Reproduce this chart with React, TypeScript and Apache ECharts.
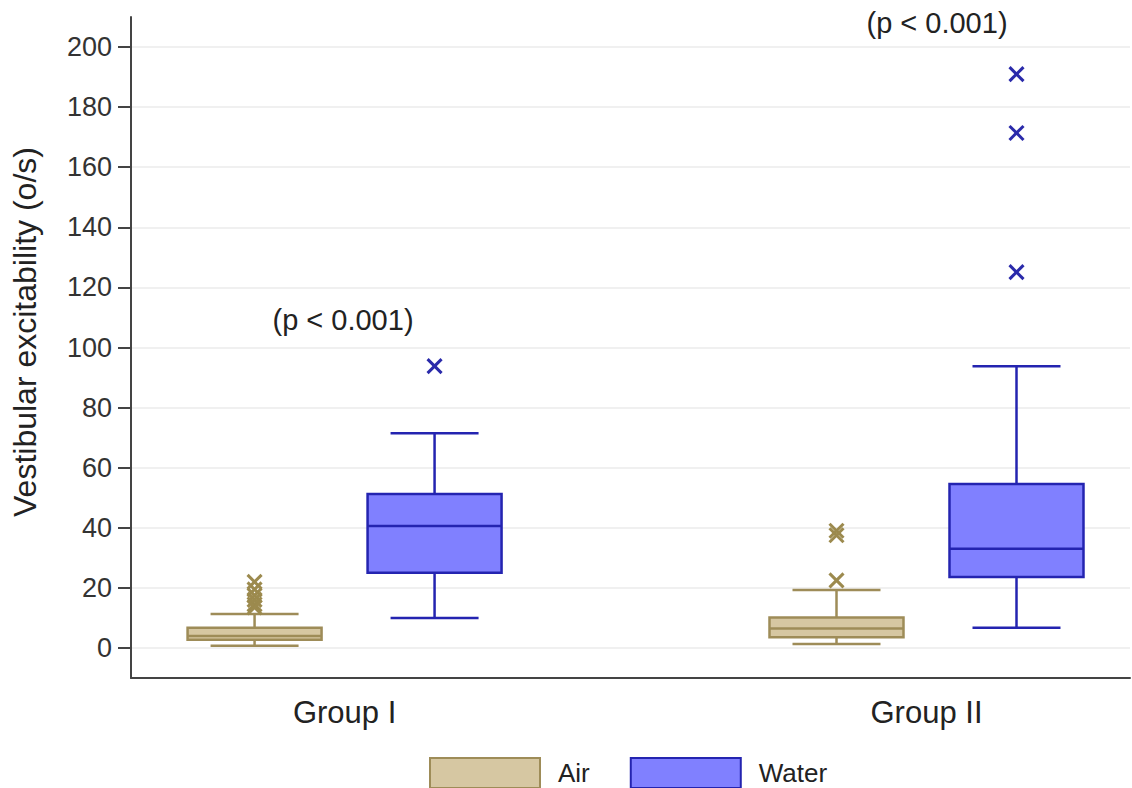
import React, { useEffect, useRef } from "react";
import * as echarts from "echarts";

// ---- data ----
const groups = ["Group I", "Group II"];
const seriesNames = ["Air", "Water"];
// [min, Q1, median, Q3, max]
const airStats = [
  [0.7, 2.7, 4.0, 6.7, 11.3],
  [1.3, 3.6, 6.5, 10.1, 19.3],
];
const waterStats = [
  [10.0, 25.0, 40.6, 51.2, 71.5],
  [6.7, 23.6, 33.0, 54.6, 93.8],
];
const airOutliers = [
  [22.0, 19.5, 17.5, 16.0, 14.5, 13.5],
  [39.0, 37.5, 22.5],
];
const waterOutliers = [[93.8], [191.0, 171.4, 125.1]];
const yTicks = [0, 20, 40, 60, 80, 100, 120, 140, 160, 180, 200];
const pLabels = ["(p < 0.001)", "(p < 0.001)"];
const yTitle = "Vestibular excitability (o/s)";

// ---- style ----
const FONT = "Liberation Sans, Arial, sans-serif";
const AIR_FILL = "#d6c7a2";
const AIR_STROKE = "#9e8c58";
const WATER_FILL = "#8080ff";
const WATER_STROKE = "#2424b0";
const HALF_GAP = 90; // px from group centre to box centre
const BOX_W = 134;
const CAP_W = 88;

function boxRenderer(side: number, stroke: string, fill: string) {
  return (params: any, api: any) => {
    const g = api.value(0);
    const cx = api.coord([g, 0])[0] + side * HALF_GAP;
    const yy = (i: number) => api.coord([g, api.value(i)])[1];
    const ymin = yy(1), yq1 = yy(2), ymed = yy(3), yq3 = yy(4), ymax = yy(5);
    const ls = { stroke, lineWidth: 2.5 };
    return {
      type: "group",
      children: [
        { type: "line", shape: { x1: cx, y1: ymax, x2: cx, y2: yq3 }, style: ls },
        { type: "line", shape: { x1: cx, y1: yq1, x2: cx, y2: ymin }, style: ls },
        { type: "line", shape: { x1: cx - CAP_W / 2, y1: ymax, x2: cx + CAP_W / 2, y2: ymax }, style: ls },
        { type: "line", shape: { x1: cx - CAP_W / 2, y1: ymin, x2: cx + CAP_W / 2, y2: ymin }, style: ls },
        {
          type: "rect",
          shape: { x: cx - BOX_W / 2, y: yq3, width: BOX_W, height: yq1 - yq3 },
          style: { fill, stroke, lineWidth: 2.5 },
        },
        { type: "line", shape: { x1: cx - BOX_W / 2, y1: ymed, x2: cx + BOX_W / 2, y2: ymed }, style: ls },
      ],
    };
  };
}

function crossRenderer(side: number, stroke: string) {
  return (params: any, api: any) => {
    const g = api.value(0);
    const p = api.coord([g, api.value(1)]);
    const cx = p[0] + side * HALF_GAP;
    const cy = p[1];
    const s = 7;
    const ls = { stroke, lineWidth: 3 };
    return {
      type: "group",
      children: [
        { type: "line", shape: { x1: cx - s, y1: cy - s, x2: cx + s, y2: cy + s }, style: ls },
        { type: "line", shape: { x1: cx - s, y1: cy + s, x2: cx + s, y2: cy - s }, style: ls },
      ],
    };
  };
}

const toBoxData = (stats: number[][]) => stats.map((s, i) => [i + 1, ...s]);
const toOutData = (outs: number[][]) =>
  outs.flatMap((arr, i) => arr.map((v) => [i + 1, v]));

export default function App() {
  const ref = useRef<HTMLDivElement>(null);
  useEffect(() => {
    if (!ref.current) return;
    const chart = echarts.init(ref.current, null, { renderer: "svg" });
    const option: any = {
      animation: false,
      backgroundColor: "#ffffff",
      textStyle: { fontFamily: FONT },
      grid: { left: 131, right: 2, top: 17, bottom: 110 },
      xAxis: {
        type: "value",
        min: 0.633,
        max: 2.3497,
        axisLine: { show: true, onZero: false, lineStyle: { color: "#444", width: 2 } },
        axisTick: { show: false },
        splitLine: { show: false },
        axisLabel: {
          customValues: [1, 2],
          formatter: (v: number) => groups[Math.round(v) - 1] ?? "",
          fontSize: 31,
          color: "#222",
          margin: 19,
          fontFamily: FONT,
        },
      },
      yAxis: {
        type: "value",
        min: -10,
        max: 210,
        axisLine: { show: true, onZero: false, lineStyle: { color: "#444", width: 2 } },
        axisTick: {
          show: true,
          customValues: yTicks,
          length: 13,
          lineStyle: { color: "#444", width: 2 },
        },
        splitLine: { show: true, lineStyle: { color: "#ebebeb", width: 1.5 } },
        axisLabel: {
          customValues: yTicks,
          fontSize: 27,
          color: "#333",
          margin: 19,
          fontFamily: FONT,
        },
      },
      legend: {
        left: 424,
        top: 752,
        itemWidth: 110,
        itemHeight: 30,
        itemGap: 40,
        icon: "rect",
        textStyle: { fontSize: 26, color: "#222", fontFamily: FONT, padding: [0, 0, 0, 13] },
        data: [
          { name: seriesNames[0], itemStyle: { color: AIR_FILL, borderColor: AIR_STROKE, borderWidth: 2 } },
          { name: seriesNames[1], itemStyle: { color: WATER_FILL, borderColor: WATER_STROKE, borderWidth: 2 } },
        ],
      },
      series: [
        {
          name: seriesNames[0],
          type: "custom",
          renderItem: boxRenderer(-1, AIR_STROKE, AIR_FILL),
          itemStyle: { color: AIR_FILL, borderColor: AIR_STROKE },
          encode: { x: 0, y: [1, 2, 3, 4, 5] },
          data: toBoxData(airStats),
        },
        {
          name: seriesNames[1],
          type: "custom",
          renderItem: boxRenderer(1, WATER_STROKE, WATER_FILL),
          itemStyle: { color: WATER_FILL, borderColor: WATER_STROKE },
          encode: { x: 0, y: [1, 2, 3, 4, 5] },
          data: toBoxData(waterStats),
        },
        {
          name: "Air outliers",
          type: "custom",
          renderItem: crossRenderer(-1, "#9c8a4e"),
          encode: { x: 0, y: 1 },
          data: toOutData(airOutliers),
        },
        {
          name: "Water outliers",
          type: "custom",
          renderItem: crossRenderer(1, "#2a2aaa"),
          encode: { x: 0, y: 1 },
          data: toOutData(waterOutliers),
        },
      ],
      graphic: [
        {
          type: "text",
          x: 25,
          y: 332,
          rotation: Math.PI / 2,
          style: {
            text: yTitle,
            fontSize: 32,
            fill: "#222",
            fontFamily: FONT,
            align: "center",
            verticalAlign: "middle",
          },
        },
        {
          type: "text",
          x: 343,
          y: 320,
          style: {
            text: pLabels[0],
            fontSize: 29,
            fill: "#222",
            fontFamily: FONT,
            align: "center",
            verticalAlign: "middle",
          },
        },
        {
          type: "text",
          x: 937,
          y: 23,
          style: {
            text: pLabels[1],
            fontSize: 29,
            fill: "#222",
            fontFamily: FONT,
            align: "center",
            verticalAlign: "middle",
          },
        },
      ],
    };
    chart.setOption(option);
    return () => chart.dispose();
  }, []);
  return (
    <div
      ref={ref}
      style={{ position: "absolute", left: 0, top: 0, width: 1132, height: 788 }}
    />
  );
}
